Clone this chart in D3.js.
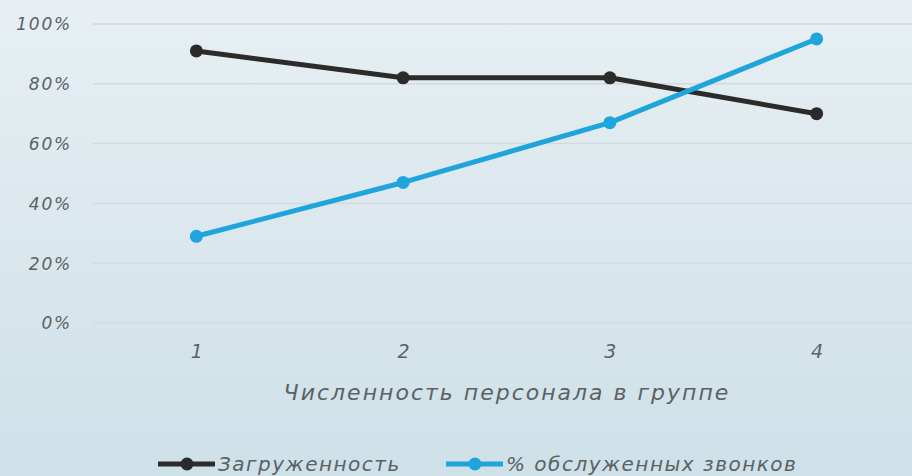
<!DOCTYPE html>
<html>
<head>
<meta charset="utf-8">
<script src="https://cdn.jsdelivr.net/npm/d3@7/dist/d3.min.js"></script>
<style>
  html, body { margin: 0; padding: 0; }
  body { width: 912px; height: 476px; overflow: hidden; }
  svg text { font-family: "DejaVu Sans", "Noto Sans", sans-serif; font-style: italic; fill: #5c6164; }
</style>
</head>
<body>
<svg id="chart" width="912" height="476"></svg>
<script>
// Staffing level per group
const categories = ["1", "2", "3", "4"];
// Workload share
const workload = [0.91, 0.82, 0.82, 0.70];
// Share of handled calls
const handledCalls = [0.29, 0.47, 0.67, 0.95];
const yTicks = [0, 0.2, 0.4, 0.6, 0.8, 1.0];
const seriesNames = ["Загруженность", "% обслуженных звонков"];
const seriesColors = ["#2b2b2b", "#1fa4dc"];
const axisTitle = "Численность персонала в группе";

const svg = d3.select("#chart");
const W = 912, H = 476;

// background gradient
const defs = svg.append("defs");
const grad = defs.append("linearGradient").attr("id", "bg").attr("x1", 0).attr("y1", 0).attr("x2", 0).attr("y2", 1);
grad.append("stop").attr("offset", "0%").attr("stop-color", "#e7eff3");
grad.append("stop").attr("offset", "100%").attr("stop-color", "#cee0e8");
svg.append("rect").attr("width", W).attr("height", H).attr("fill", "url(#bg)");

const plot = { left: 93, right: 920, top: 24, bottom: 323 };

const x = d3.scalePoint().domain(categories).range([plot.left, plot.right]).padding(0.5);
const y = d3.scaleLinear().domain([0, 1]).range([plot.bottom, plot.top]);

// gridlines
svg.append("g").selectAll("line").data(yTicks).join("line")
  .attr("x1", plot.left).attr("x2", W)
  .attr("y1", d => y(d)).attr("y2", d => y(d))
  .attr("stroke", "#d3dadd").attr("stroke-width", 1.5);

// y axis labels
const yAxis = d3.axisLeft(y).tickValues(yTicks).tickFormat(d3.format(".0%")).tickSize(0).tickPadding(21);
const gy = svg.append("g").attr("transform", `translate(${plot.left},0)`).call(yAxis);
gy.select(".domain").remove();
gy.selectAll("text").attr("font-size", 17).attr("font-family", null).attr("dy", "0.35em")
  .attr("letter-spacing", 1.8);

// x axis labels
const xAxis = d3.axisBottom(x).tickSize(0).tickPadding(22);
const gx = svg.append("g").attr("transform", `translate(0,${plot.bottom})`).call(xAxis);
gx.select(".domain").remove();
gx.selectAll("text").attr("font-size", 19).attr("font-family", null);

// axis title
svg.append("text").attr("x", 507).attr("y", 400)
  .attr("text-anchor", "middle").attr("font-size", 22).attr("letter-spacing", 2).text(axisTitle);

// series
const series = [workload, handledCalls];
const line = d3.line().x((d, i) => x(categories[i])).y(d => y(d));
series.forEach((vals, s) => {
  const g = svg.append("g");
  g.append("path").datum(vals).attr("d", line)
    .attr("fill", "none").attr("stroke", seriesColors[s]).attr("stroke-width", 5)
    .attr("stroke-linejoin", "round");
  g.selectAll("circle").data(vals).join("circle")
    .attr("cx", (d, i) => x(categories[i])).attr("cy", d => y(d)).attr("r", 6.5)
    .attr("fill", seriesColors[s]);
});

// legend
const legendItems = [{ x: 158, textX: 218 }, { x: 446, textX: 506 }];
legendItems.forEach((it, s) => {
  const g = svg.append("g").attr("transform", `translate(0,464)`);
  g.append("line").attr("x1", it.x).attr("x2", it.x + 57).attr("y1", 0).attr("y2", 0)
    .attr("stroke", seriesColors[s]).attr("stroke-width", 5);
  g.append("circle").attr("cx", it.x + 29).attr("cy", 0).attr("r", 6.5).attr("fill", seriesColors[s]);
  g.append("text").attr("x", it.textX).attr("y", 0).attr("dy", "0.35em")
    .attr("font-size", 20).attr("letter-spacing", 1.5).text(seriesNames[s]);
});
</script>
</body>
</html>
